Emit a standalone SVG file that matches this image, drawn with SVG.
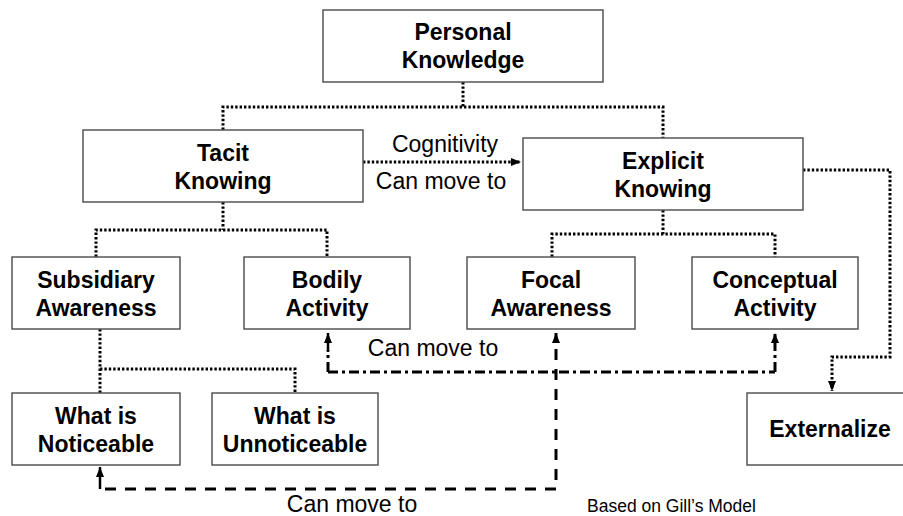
<svg xmlns="http://www.w3.org/2000/svg" width="903" height="516" viewBox="0 0 903 516">
<defs>
<style>
.box{fill:#fff;stroke:#555;stroke-width:1.5}
.t{font-family:"Liberation Sans",Arial,sans-serif;font-weight:bold;font-size:23px;fill:#000;text-anchor:middle}
.l{font-family:"Liberation Sans",Arial,sans-serif;font-size:23px;fill:#000;text-anchor:middle}
.dot{fill:none;stroke:#000;stroke-width:3;stroke-dasharray:2.4 2}
.dd{fill:none;stroke:#000;stroke-width:3;stroke-dasharray:10 4 3 4}
.da{fill:none;stroke:#000;stroke-width:3;stroke-dasharray:11 9}
.sol{fill:none;stroke:#000;stroke-width:2.5}
</style>
<marker id="ah" markerUnits="userSpaceOnUse" markerWidth="10" markerHeight="10" viewBox="0 0 10 10" refX="10" refY="5" orient="auto">
<path d="M0,1 L10,5 L0,9 Z" fill="#000"/>
</marker>
</defs>
<g id="connectors">
<path class="dot" d="M463,82 V107 M223,130 V107 H663 V138"/>
<path class="dot" d="M223,202 V230 M96,257 V230 H327 V257"/>
<path class="dot" d="M663,210 V234 M552,257 V234 H775 V257"/>
<path class="dot" d="M100,329 V393 M100,369 H295 V393"/>
<path class="dot" d="M363,162 H521" marker-end="url(#ah)"/>
<path class="dot" d="M803,170 H890 V357 H832 V391" marker-end="url(#ah)"/>
<path class="dd" d="M328,372 H775"/>
<path class="dd" d="M328,372 V350"/>
<path class="sol" d="M328,352 V333" marker-end="url(#ah)"/>
<path class="dd" d="M775,372 V333" marker-end="url(#ah)"/>
<path class="da" d="M105,489 H556 V333" marker-end="url(#ah)"/>
<path class="sol" d="M100,489 V467" marker-end="url(#ah)"/>
</g>
<g id="personal"><rect class="box" x="323" y="10" width="280" height="72"/><text class="t" x="463" y="40">Personal</text><text class="t" x="463" y="68">Knowledge</text></g>
<g id="tacit"><rect class="box" x="83" y="130" width="280" height="72"/><text class="t" x="223" y="161">Tacit</text><text class="t" x="223" y="189">Knowing</text></g>
<g id="explicit"><rect class="box" x="523" y="138" width="280" height="72"/><text class="t" x="663" y="169">Explicit</text><text class="t" x="663" y="197">Knowing</text></g>
<g id="subsidiary"><rect class="box" x="12" y="257" width="168" height="72"/><text class="t" x="96" y="288">Subsidiary</text><text class="t" x="96" y="316">Awareness</text></g>
<g id="bodily"><rect class="box" x="244" y="257" width="166" height="72"/><text class="t" x="327" y="288">Bodily</text><text class="t" x="327" y="316">Activity</text></g>
<g id="focal"><rect class="box" x="467" y="257" width="168" height="72"/><text class="t" x="551" y="288">Focal</text><text class="t" x="551" y="316">Awareness</text></g>
<g id="conceptual"><rect class="box" x="692" y="257" width="166" height="72"/><text class="t" x="775" y="288">Conceptual</text><text class="t" x="775" y="316">Activity</text></g>
<g id="noticeable"><rect class="box" x="12" y="393" width="168" height="72"/><text class="t" x="96" y="424">What is</text><text class="t" x="96" y="452">Noticeable</text></g>
<g id="unnoticeable"><rect class="box" x="212" y="393" width="166" height="72"/><text class="t" x="295" y="424">What is</text><text class="t" x="295" y="452">Unnoticeable</text></g>
<g id="externalize"><rect class="box" x="747" y="393" width="170" height="72"/><text class="t" x="830" y="437">Externalize</text></g>
<g id="labels">
<text class="l" x="445" y="152">Cognitivity</text>
<text class="l" x="441" y="189">Can move to</text>
<text class="l" x="433" y="356">Can move to</text>
<text class="l" x="352" y="512">Can move to</text>
<text x="587" y="512" style="font-family:'Liberation Sans',Arial,sans-serif;font-size:17.5px;fill:#000">Based on Gill’s Model</text>
</g>
</svg>
